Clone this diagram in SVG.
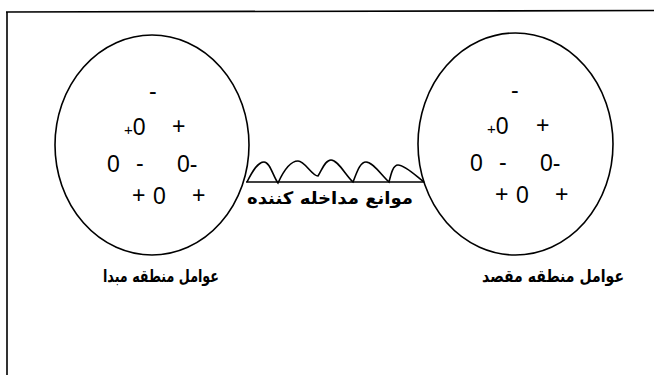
<svg xmlns="http://www.w3.org/2000/svg" width="654" height="375" viewBox="0 0 654 375">
<style>
.ln{fill:none;stroke:#000;stroke-width:1.6}
.sym{font-family:"Liberation Sans",Arial,sans-serif;font-size:23px;fill:#000}
.fa{font-family:"DejaVu Sans",sans-serif;font-size:17px;font-weight:bold;fill:#000;text-anchor:middle}
</style>
<rect width="654" height="375" fill="#fff"/>
<g id="frame">
<path class="ln" d="M6 12 L654 10.5 M7 12 L7 375" stroke-width="2"/>
</g>
<g id="origin">
<ellipse class="ln" cx="152" cy="145" rx="97" ry="110"/>
<text class="sym" x="149" y="99">-</text>
<text class="sym" x="124" y="135"><tspan font-size="15">+</tspan>0</text>
<text class="sym" x="172" y="134">+</text>
<text class="sym" x="107" y="172">0</text>
<text class="sym" x="136" y="171">-</text>
<text class="sym" x="177" y="172">0-</text>
<text class="sym" x="132" y="203">+</text>
<text class="sym" x="153" y="204">0</text>
<text class="sym" x="192" y="203">+</text>
<text class="fa" x="161" y="282" textLength="116" lengthAdjust="spacingAndGlyphs">عوامل منطقه مبدا</text>
</g>
<g id="destination">
<ellipse class="ln" cx="515.5" cy="144" rx="97.5" ry="111"/>
<text class="sym" x="511" y="98">-</text>
<text class="sym" x="487" y="134"><tspan font-size="15">+</tspan>0</text>
<text class="sym" x="536" y="133">+</text>
<text class="sym" x="470" y="171">0</text>
<text class="sym" x="499" y="170">-</text>
<text class="sym" x="540" y="171">0-</text>
<text class="sym" x="495" y="202">+</text>
<text class="sym" x="516" y="203">0</text>
<text class="sym" x="555" y="202">+</text>
<text class="fa" x="553" y="282" textLength="142" lengthAdjust="spacingAndGlyphs">عوامل منطقه مقصد</text>
</g>
<g id="connectors">
<line class="ln" x1="246" y1="182" x2="424" y2="182"/>
<path class="ln" d="M247 182 C253 170 258 162 264 162 C270 162 273 176 278 183 C283 172 290 161 298 161 C305 161 312 176 318 176 C322 170 325 160 331 160 C338 160 346 176 353 182 C357 172 360 162 366 162 C373 162 382 176 389 182 C391 174 393 165 398 165 C405 165 416 176 424 182"/>
</g>
<g id="barriers">
<text class="fa" x="330" y="204" font-size="20" textLength="166" lengthAdjust="spacingAndGlyphs">موانع مداخله کننده</text>
</g>
</svg>
